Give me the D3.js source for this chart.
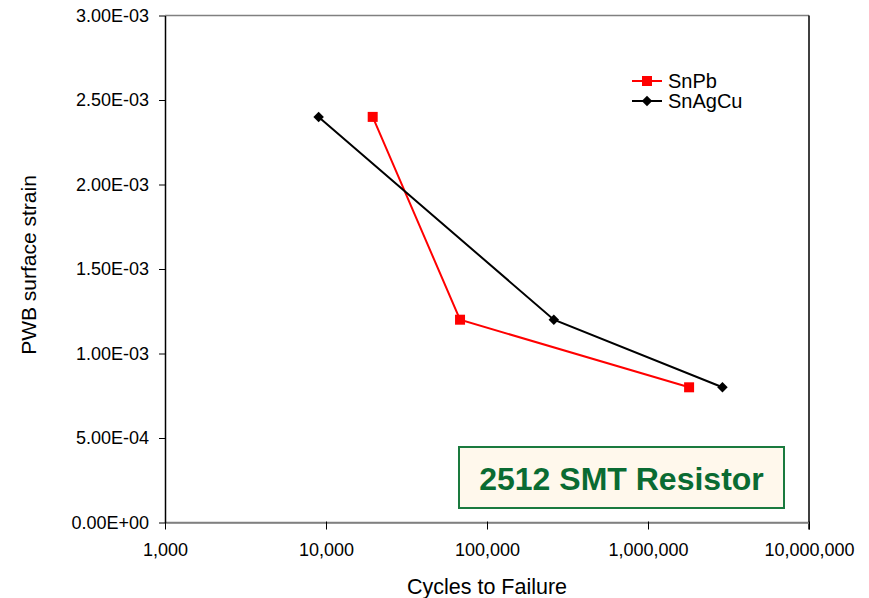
<!DOCTYPE html>
<html><head><meta charset="utf-8">
<script src="https://cdn.jsdelivr.net/npm/d3@7/dist/d3.min.js"></script>
<style>body{margin:0;background:#fff;} text{font-family:Arial,"Liberation Sans",sans-serif;}</style>
</head><body>
<svg id="c" width="869" height="598"></svg>
<script>
const seriesNames = ["SnPb", "SnAgCu"];
const seriesColors = ["#ff0000", "#000000"];
const snpbCycles = [19500, 68000, 1800000];
const snpbStrain = [0.0024, 0.0012, 0.0008];
const snagcuCycles = [9000, 260000, 2900000];
const snagcuStrain = [0.0024, 0.0012, 0.0008];
const xTicks = [1000, 10000, 100000, 1000000, 10000000];
const yTicks = [0, 0.0005, 0.001, 0.0015, 0.002, 0.0025, 0.003];
const yTickLabels = ["0.00E+00","5.00E-04","1.00E-03","1.50E-03","2.00E-03","2.50E-03","3.00E-03"];

const svg = d3.select("#c");
const L = 165, R = 809, T = 15.5, B = 522.5;
const x = d3.scaleLog().domain([1000, 10000000]).range([L, R]);
const y = d3.scaleLinear().domain([0, 0.003]).range([B, T]);

// frame
svg.append("line").attr("x1", L).attr("x2", R).attr("y1", T).attr("y2", T).attr("stroke", "#808080").attr("stroke-width", 1.5);
svg.append("line").attr("x1", L).attr("x2", R).attr("y1", B).attr("y2", B).attr("stroke", "#808080").attr("stroke-width", 1.5);
svg.append("line").attr("x1", R).attr("x2", R).attr("y1", T).attr("y2", B + 7).attr("stroke", "#000").attr("stroke-width", 1.5);

// axes
const xAxis = d3.axisBottom(x).tickValues(xTicks).tickFormat(d3.format(",")).tickSizeOuter(0).tickSizeInner(7);
const gx = svg.append("g").attr("transform", `translate(0,${B})`).call(xAxis);
gx.select(".domain").attr("stroke", "#808080").attr("stroke-width", 1.5);
gx.selectAll(".tick line").attr("stroke", "#000").attr("y1", -1);
gx.selectAll(".tick text").attr("font-size", 18).attr("fill", "#000").attr("y", 21).attr("dy", "0.71em").attr("font-family", "Arial, 'Liberation Sans', sans-serif");

const yAxis = d3.axisLeft(y).tickValues(yTicks).tickFormat((d, i) => yTickLabels[i]).tickSizeOuter(0).tickSizeInner(6);
const gy = svg.append("g").attr("transform", `translate(${L},0)`).call(yAxis);
gy.select(".domain").attr("stroke", "#000").attr("stroke-width", 1.5);
gy.selectAll(".tick line").attr("stroke", "#000");
gy.selectAll(".tick text").attr("font-size", 18).attr("fill", "#000").attr("x", -16).attr("font-family", "Arial, 'Liberation Sans', sans-serif");

// titles
svg.append("text").attr("x", 487).attr("y", 594).attr("text-anchor", "middle").attr("font-size", 21.5).text("Cycles to Failure");
svg.append("text").attr("transform", "translate(36,265) rotate(-90)").attr("text-anchor", "middle").attr("font-size", 21).text("PWB surface strain");

// series
const series = [
  {name: seriesNames[0], color: seriesColors[0], pts: snpbCycles.map((c, i) => [c, snpbStrain[i]]), marker: "square"},
  {name: seriesNames[1], color: seriesColors[1], pts: snagcuCycles.map((c, i) => [c, snagcuStrain[i]]), marker: "diamond"}
];
const line = d3.line().x(d => x(d[0])).y(d => y(d[1]));
function marker(g, type, cx, cy, color) {
  if (type === "square") {
    g.append("rect").attr("x", cx - 5).attr("y", cy - 5).attr("width", 10).attr("height", 10).attr("fill", color);
  } else {
    g.append("path").attr("d", d3.symbol().type(d3.symbolSquare).size(55)())
      .attr("transform", `translate(${cx},${cy}) rotate(45)`).attr("fill", color);
  }
}
series.forEach(s => {
  const g = svg.append("g");
  g.append("path").attr("d", line(s.pts)).attr("fill", "none").attr("stroke", s.color).attr("stroke-width", 2);
  s.pts.forEach(p => marker(g, s.marker, x(p[0]), y(p[1]), s.color));
});

// legend
series.forEach((s, i) => {
  const ly = 81 + i * 20;
  const g = svg.append("g");
  g.append("line").attr("x1", 632).attr("x2", 662).attr("y1", ly).attr("y2", ly).attr("stroke", s.color).attr("stroke-width", 2);
  marker(g, s.marker, 647, ly, s.color);
  g.append("text").attr("x", 668).attr("y", ly + 7).attr("font-size", 20).text(s.name);
});

// annotation box
svg.append("rect").attr("x", 459).attr("y", 447).attr("width", 325).attr("height", 61)
  .attr("fill", "#fff8ec").attr("stroke", "#1a7a3e").attr("stroke-width", 2);
svg.append("text").attr("x", 621.5).attr("y", 490).attr("text-anchor", "middle")
  .attr("font-size", 32).attr("font-weight", "bold").attr("fill", "#0a6b32").text("2512 SMT Resistor");
</script>
</body></html>
